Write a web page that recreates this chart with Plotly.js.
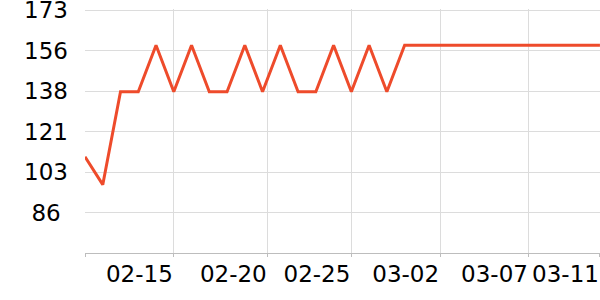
<!DOCTYPE html>
<html>
<head>
<meta charset="utf-8">
<script src="https://cdn.plot.ly/plotly-3.0.1.min.js"></script>
<style>html,body{margin:0;padding:0;background:#fff;}#chart{width:600px;height:300px;}</style>
</head>
<body>
<div id="chart"></div>
<script>
const dates = [
  "2023-02-10","2023-02-11","2023-02-12","2023-02-13","2023-02-14","2023-02-15",
  "2023-02-16","2023-02-17","2023-02-18","2023-02-19","2023-02-20","2023-02-21",
  "2023-02-22","2023-02-23","2023-02-24","2023-02-25","2023-02-26","2023-02-27",
  "2023-02-28","2023-03-01","2023-03-02","2023-03-03","2023-03-04","2023-03-05",
  "2023-03-06","2023-03-07","2023-03-08","2023-03-09","2023-03-10","2023-03-11"
];
const values = [
  110, 98, 138, 138, 158, 138,
  158, 138, 138, 158, 138, 158,
  138, 138, 158, 138, 158, 138,
  158, 158, 158, 158, 158, 158,
  158, 158, 158, 158, 158, 158
];
const xTickVals = ["2023-02-10","2023-02-15","2023-02-20 07:00","2023-02-25","2023-03-02","2023-03-07","2023-03-11"];
const xTickText = ["","02-15","02-20","02-25","03-02","03-07","03-11"];
const xRange = ["2023-02-10", "2023-03-11 00:05"];
const yTickVals = [86, 103.4, 120.8, 138.2, 155.6, 173];
const yTickText = ["86\u2008","103","121","138","156","173"];
const yRange = [68.6, 173.6];

const trace = {
  x: dates, y: values, type: "scatter", mode: "lines",
  line: {color: "#ee4b2b", width: 3},
  hoverinfo: "skip"
};
const font = {family: "DejaVu Sans", size: 23, color: "#000"};
const layout = {
  width: 600, height: 300,
  margin: {l: 85, r: 0, t: 9, b: 47},
  paper_bgcolor: "#fff", plot_bgcolor: "#fff",
  showlegend: false,
  font: font,
  xaxis: {
    type: "date", range: xRange,
    tickmode: "array", tickvals: xTickVals, ticktext: xTickText,
    ticklabelposition: "outside left",
    ticklabeloverflow: "allow",
    tickangle: 0,
    showgrid: true, gridcolor: "#dcdcdc", gridwidth: 1,
    showline: true, linecolor: "#bdbdbd", linewidth: 1,
    ticks: "outside", ticklen: 3, tickcolor: "#bdbdbd",
    zeroline: false, tickfont: font
  },
  yaxis: {
    range: yRange,
    tickmode: "array", tickvals: yTickVals, ticktext: yTickText,
    ticklabeloverflow: "allow",
    showgrid: true, gridcolor: "#dcdcdc", gridwidth: 1,
    showline: false, zeroline: false, ticks: "",
    ticklabelstandoff: 16,
    tickfont: font
  }
};
Plotly.newPlot("chart", [trace], layout, {staticPlot: true, displayModeBar: false});
</script>
</body>
</html>
